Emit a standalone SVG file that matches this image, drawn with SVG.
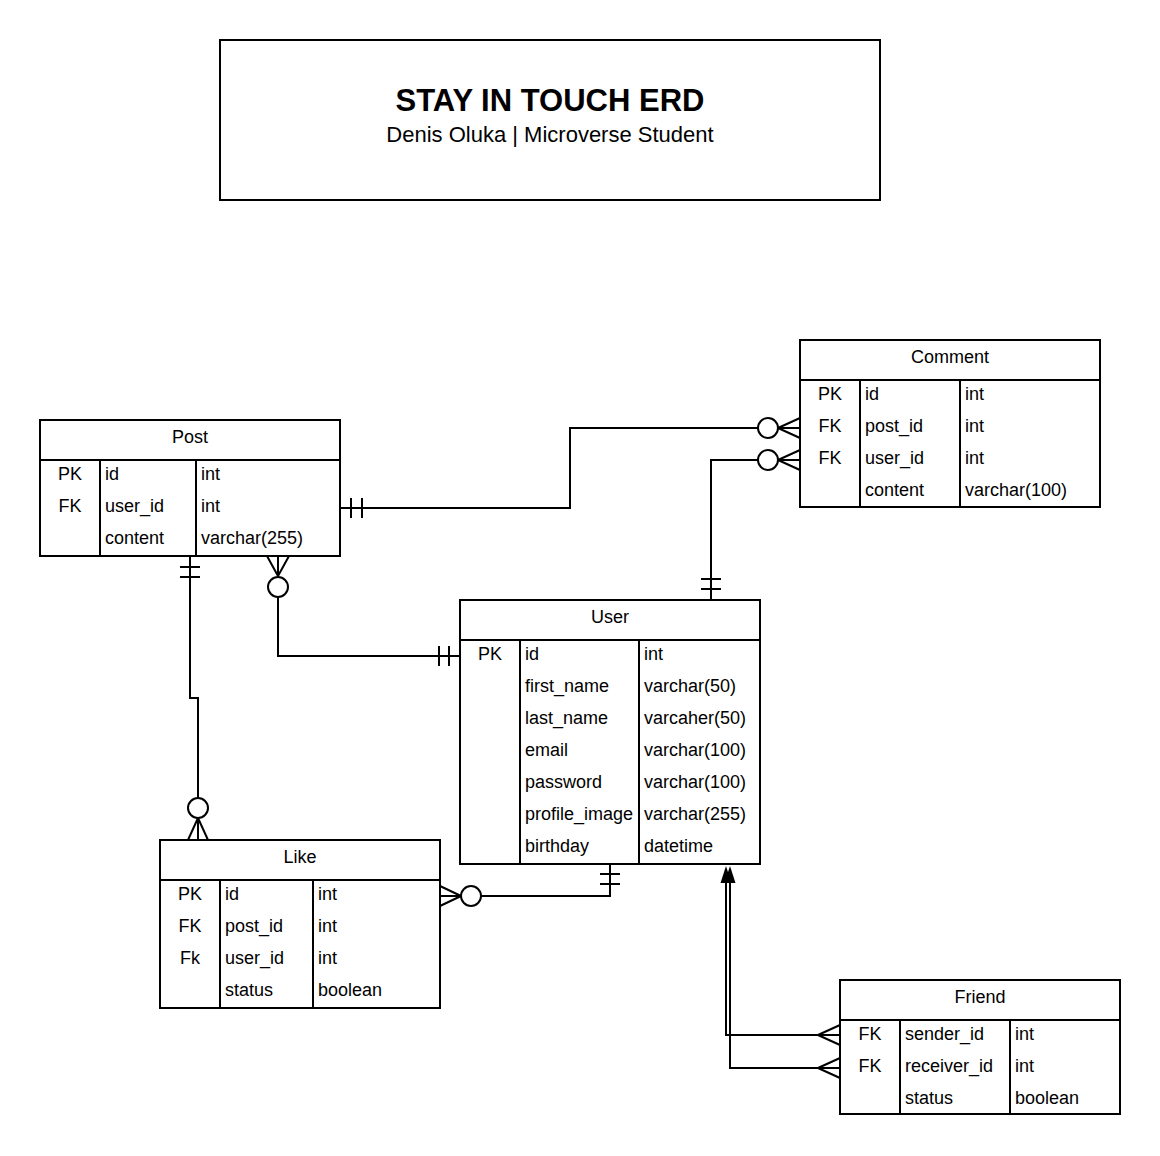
<svg xmlns="http://www.w3.org/2000/svg" width="1160" height="1156" viewBox="0 0 1160 1156">
<style>
.box{fill:#fff;stroke:#000;stroke-width:2}
.ln{fill:none;stroke:#000;stroke-width:2}
.c{fill:#fff;stroke:#000;stroke-width:2}
.ah{fill:#000;stroke:none}
text{font-family:"Liberation Sans",Arial,sans-serif;fill:#000}
.t{font-size:18px}
.m{text-anchor:middle}
.title{font-size:31px;font-weight:bold;text-anchor:middle}
.sub{font-size:22px;text-anchor:middle}
</style>
<rect width="1160" height="1156" fill="#fff"/>
<g id="title">
<rect class="box" x="220" y="40" width="660" height="160"/>
<text class="title" x="550" y="111">STAY IN TOUCH ERD</text>
<text class="sub" x="550" y="142">Denis Oluka | Microverse Student</text>
</g>
<g id="connectors">
<path class="ln" d="M340,508 H570 V428 H800"/>
<path class="ln" d="M351,498 V518 M362,498 V518"/>
<path class="ln" d="M778,428 L800,418 M778,428 L800,438"/>
<circle class="c" cx="768" cy="428" r="10"/>
<path class="ln" d="M711,600 V460 H800"/>
<path class="ln" d="M701,579 H721 M701,589 H721"/>
<path class="ln" d="M778,460 L800,450 M778,460 L800,470"/>
<circle class="c" cx="768" cy="460" r="10"/>
<path class="ln" d="M278,556 V656 H460"/>
<path class="ln" d="M278,576 L267,556 M278,576 L289,556"/>
<circle class="c" cx="278" cy="587" r="10"/>
<path class="ln" d="M439,646 V666 M449,646 V666"/>
<path class="ln" d="M190,556 V698 H198 V840"/>
<path class="ln" d="M180,567 H200 M180,577 H200"/>
<path class="ln" d="M198,818 L188,840 M198,818 L208,840"/>
<circle class="c" cx="198" cy="808" r="10"/>
<path class="ln" d="M610,864 V896 H440"/>
<path class="ln" d="M600,874 H620 M600,884 H620"/>
<path class="ln" d="M461,896 L440,886 M461,896 L440,906"/>
<circle class="c" cx="471" cy="896" r="10"/>
<path class="ln" d="M840,1035 H726 V880"/>
<path class="ln" d="M840,1068 H730 V880"/>
<path class="ah" d="M726,866 L731.5,883 L720.5,883 Z"/>
<path class="ah" d="M730,866 L735.5,883 L724.5,883 Z"/>
<path class="ln" d="M818,1035 L840,1025 M818,1035 L840,1045"/>
<path class="ln" d="M818,1068 L840,1058 M818,1068 L840,1078"/>
</g>
<g id="post">
<rect class="box" x="40" y="420" width="300" height="136"/>
<path class="ln" d="M40,460 H340 M100,460 V556 M196,460 V556"/>
<text class="t m" x="190" y="443">Post</text>
<text class="t m" x="70" y="480">PK</text><text class="t" x="105" y="480">id</text><text class="t" x="201" y="480">int</text>
<text class="t m" x="70" y="512">FK</text><text class="t" x="105" y="512">user_id</text><text class="t" x="201" y="512">int</text>
<text class="t" x="105" y="544">content</text><text class="t" x="201" y="544">varchar(255)</text>
</g>
<g id="comment">
<rect class="box" x="800" y="340" width="300" height="167"/>
<path class="ln" d="M800,380 H1100 M860,380 V507 M960,380 V507"/>
<text class="t m" x="950" y="363">Comment</text>
<text class="t m" x="830" y="400">PK</text><text class="t" x="865" y="400">id</text><text class="t" x="965" y="400">int</text>
<text class="t m" x="830" y="432">FK</text><text class="t" x="865" y="432">post_id</text><text class="t" x="965" y="432">int</text>
<text class="t m" x="830" y="464">FK</text><text class="t" x="865" y="464">user_id</text><text class="t" x="965" y="464">int</text>
<text class="t" x="865" y="496">content</text><text class="t" x="965" y="496">varchar(100)</text>
</g>
<g id="user">
<rect class="box" x="460" y="600" width="300" height="264"/>
<path class="ln" d="M460,640 H760 M520,640 V864 M639,640 V864"/>
<text class="t m" x="610" y="623">User</text>
<text class="t m" x="490" y="660">PK</text><text class="t" x="525" y="660">id</text><text class="t" x="644" y="660">int</text>
<text class="t" x="525" y="692">first_name</text><text class="t" x="644" y="692">varchar(50)</text>
<text class="t" x="525" y="724">last_name</text><text class="t" x="644" y="724">varcaher(50)</text>
<text class="t" x="525" y="756">email</text><text class="t" x="644" y="756">varchar(100)</text>
<text class="t" x="525" y="788">password</text><text class="t" x="644" y="788">varchar(100)</text>
<text class="t" x="525" y="820">profile_image</text><text class="t" x="644" y="820">varchar(255)</text>
<text class="t" x="525" y="852">birthday</text><text class="t" x="644" y="852">datetime</text>
</g>
<g id="like">
<rect class="box" x="160" y="840" width="280" height="168"/>
<path class="ln" d="M160,880 H440 M220,880 V1008 M313,880 V1008"/>
<text class="t m" x="300" y="863">Like</text>
<text class="t m" x="190" y="900">PK</text><text class="t" x="225" y="900">id</text><text class="t" x="318" y="900">int</text>
<text class="t m" x="190" y="932">FK</text><text class="t" x="225" y="932">post_id</text><text class="t" x="318" y="932">int</text>
<text class="t m" x="190" y="964">Fk</text><text class="t" x="225" y="964">user_id</text><text class="t" x="318" y="964">int</text>
<text class="t" x="225" y="996">status</text><text class="t" x="318" y="996">boolean</text>
</g>
<g id="friend">
<rect class="box" x="840" y="980" width="280" height="134"/>
<path class="ln" d="M840,1020 H1120 M900,1020 V1114 M1010,1020 V1114"/>
<text class="t m" x="980" y="1003">Friend</text>
<text class="t m" x="870" y="1040">FK</text><text class="t" x="905" y="1040">sender_id</text><text class="t" x="1015" y="1040">int</text>
<text class="t m" x="870" y="1072">FK</text><text class="t" x="905" y="1072">receiver_id</text><text class="t" x="1015" y="1072">int</text>
<text class="t" x="905" y="1104">status</text><text class="t" x="1015" y="1104">boolean</text>
</g>
</svg>
